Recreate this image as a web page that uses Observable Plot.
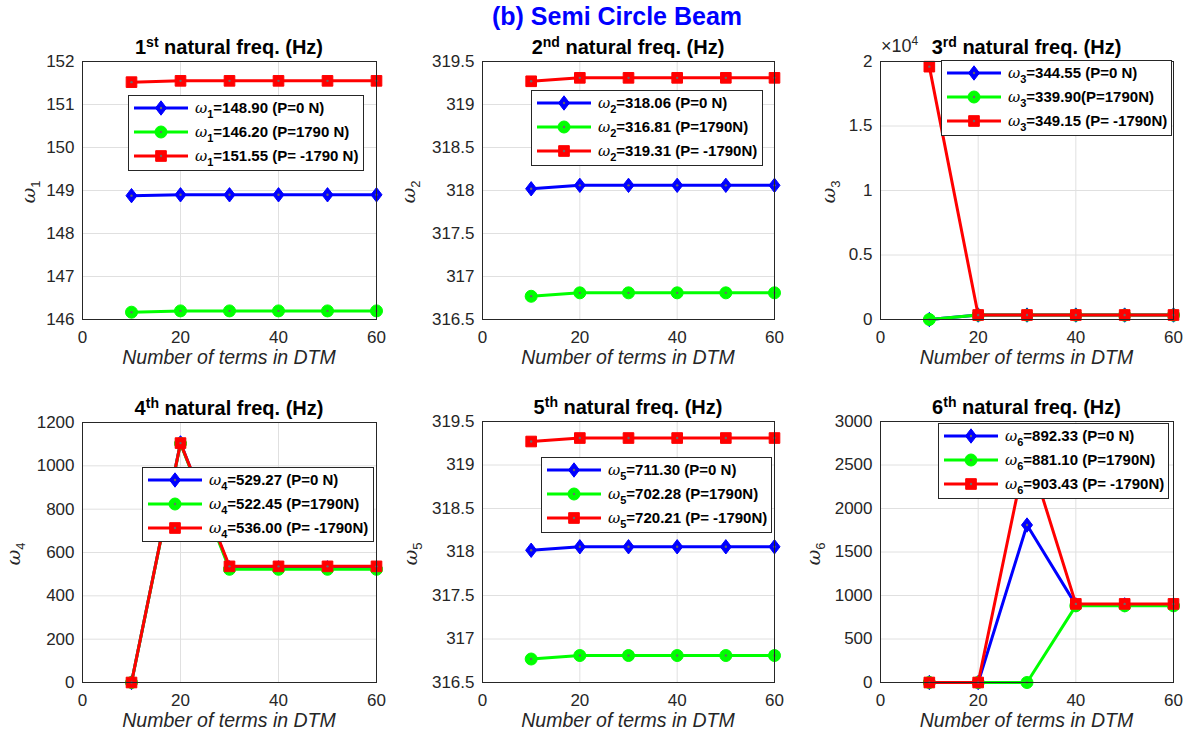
<!DOCTYPE html>
<html><head><meta charset="utf-8">
<script src="https://cdn.jsdelivr.net/npm/d3@7"></script>
<script src="https://cdn.jsdelivr.net/npm/@observablehq/plot@0.6"></script>
<style>
body{margin:0;background:#fff;}
#root{position:relative;width:1190px;height:735px;overflow:hidden;font-family:"Liberation Sans",Arial,Helvetica,sans-serif;}
.abs{position:absolute;white-space:nowrap;}
.maintitle{color:#0000ff;font-weight:bold;font-size:25px;transform:translate(-50%,-50%);}
.ptitle{color:#000;font-weight:bold;font-size:20px;transform:translate(-50%,-50%);}
.ptitle sup{font-size:14px;vertical-align:7px;line-height:0;}
.xlabel{color:#262626;font-style:italic;font-size:19.5px;transform:translate(-50%,-50%);}
.ylabel{color:#262626;font-size:19px;transform:translate(-50%,-50%) rotate(-90deg);}
.ylabel i, .leg i{font-family:"DejaVu Serif","Liberation Serif",serif;font-style:italic;font-weight:normal;}
.ylabel sub{font-size:13px;vertical-align:-5px;line-height:0;}
.expo{color:#262626;font-size:18px;}
.expo sup{font-size:12px;vertical-align:7px;line-height:0;}
.leg{background:#fff;border:1px solid #262626;box-sizing:border-box;}
.legrow{position:absolute;left:0;height:24px;display:flex;align-items:center;font-weight:bold;font-size:15px;color:#000;}
.legrow sub{font-size:11px;vertical-align:-5px;line-height:0;}
</style></head>
<body><div id="root"></div>
<script>
// ---------------- data ----------------
const nTerms = [10, 20, 30, 40, 50, 60];
const xTicks = [0, 20, 40, 60];

const w1_P0     = [148.88, 148.90, 148.90, 148.90, 148.90, 148.90];
const w1_P1790  = [146.17, 146.20, 146.20, 146.20, 146.20, 146.20];
const w1_Pm1790 = [151.52, 151.55, 151.55, 151.55, 151.55, 151.55];

const w2_P0     = [318.02, 318.06, 318.06, 318.06, 318.06, 318.06];
const w2_P1790  = [316.77, 316.81, 316.81, 316.81, 316.81, 316.81];
const w2_Pm1790 = [319.27, 319.31, 319.31, 319.31, 319.31, 319.31];

const w3_P0     = [0, 344.55, 344.55, 344.55, 344.55, 344.55];
const w3_P1790  = [0, 339.90, 339.90, 339.90, 339.90, 339.90];
const w3_Pm1790 = [19600, 349.15, 349.15, 349.15, 349.15, 349.15];

const w4_P0     = [0, 1106, 529.27, 529.27, 529.27, 529.27];
const w4_P1790  = [0, 1103, 522.45, 522.45, 522.45, 522.45];
const w4_Pm1790 = [0, 1105, 536.00, 536.00, 536.00, 536.00];

const w5_P0     = [318.02, 318.06, 318.06, 318.06, 318.06, 318.06];
const w5_P1790  = [316.77, 316.81, 316.81, 316.81, 316.81, 316.81];
const w5_Pm1790 = [319.27, 319.31, 319.31, 319.31, 319.31, 319.31];

const w6_P0     = [0, 0, 1810, 892.33, 892.33, 892.33];
const w6_P1790  = [0, 0, 0, 881.10, 881.10, 881.10];
const w6_Pm1790 = [0, 0, 2700, 903.43, 903.43, 903.43];

const yTicks1 = [146, 147, 148, 149, 150, 151, 152];
const yTicks2 = [316.5, 317, 317.5, 318, 318.5, 319, 319.5];
const yTicks3 = [0, 5000, 10000, 15000, 20000];
const yTicks4 = [0, 200, 400, 600, 800, 1000, 1200];
const yTicks5 = [316.5, 317, 317.5, 318, 318.5, 319, 319.5];
const yTicks6 = [0, 500, 1000, 1500, 2000, 2500, 3000];

const legend1 = ["=148.90 (P=0 N)", "=146.20 (P=1790 N)", "=151.55 (P= -1790 N)"];
const legend2 = ["=318.06 (P=0 N)", "=316.81 (P=1790N)", "=319.31 (P= -1790N)"];
const legend3 = ["=344.55 (P=0 N)", "=339.90(P=1790N)", "=349.15 (P= -1790N)"];
const legend4 = ["=529.27 (P=0 N)", "=522.45 (P=1790N)", "=536.00 (P= -1790N)"];
const legend5 = ["=711.30 (P=0 N)", "=702.28 (P=1790N)", "=720.21 (P= -1790N)"];
const legend6 = ["=892.33 (P=0 N)", "=881.10 (P=1790N)", "=903.43 (P= -1790N)"];

const seriesKeys = ["P=0 N", "P=1790 N", "P=-1790 N"];
const ordinals = ["st", "nd", "rd", "th", "th", "th"];
const mainTitle = "(b) Semi Circle Beam";
const xLabel = "Number of terms in DTM";

// ---------------- styles / layout ----------------
const seriesColors = ["#0000ff", "#00ff00", "#ff0000"];
const matlabDiamond = {
  draw(context, size) {
    const a = Math.sqrt(size) * 0.52, b = a * 1.3;
    context.moveTo(0, -b); context.lineTo(a, 0); context.lineTo(0, b); context.lineTo(-a, 0); context.closePath();
  }
};
const seriesSymbols = [matlabDiamond, d3.symbolCircle, d3.symbolSquare];
const frames = [[82,61,294,258],[482,61,292,258],[880,61,293,258],[82,422,294,260],[482,421,292,261],[880,421,293,261]];
const legendBoxes = [[128,95,236,76],[531,90,232,76],[941,60,231,76],[142,467,232,75],[541,457,231,76],[938,423,231,76]];
const yLabelOffsets = [54,74,52,69,72,67];

const modeSeries = [
  [w1_P0, w1_P1790, w1_Pm1790],
  [w2_P0, w2_P1790, w2_Pm1790],
  [w3_P0, w3_P1790, w3_Pm1790],
  [w4_P0, w4_P1790, w4_Pm1790],
  [w5_P0, w5_P1790, w5_Pm1790],
  [w6_P0, w6_P1790, w6_Pm1790]
];
const yTickSets = [yTicks1, yTicks2, yTicks3, yTicks4, yTicks5, yTicks6];
const legends = [legend1, legend2, legend3, legend4, legend5, legend6];

const root = document.getElementById("root");
function addDiv(cls, x, y, html) {
  const d = document.createElement("div");
  d.className = "abs " + cls;
  d.style.left = x + "px"; d.style.top = y + "px";
  d.innerHTML = html;
  root.appendChild(d);
  return d;
}

const mL = 75, mR = 20, mT = 12, mB = 30;
const R = 6;

modeSeries.forEach((series, i) => {
  const [fx, fy, fw, fh] = frames[i];
  const ticks = yTickSets[i];
  const rows = series.flatMap((vals, s) => vals.map((v, k) => ({n: nTerms[k], w: v, s: seriesKeys[s]})));
  const marks = [
    Plot.gridX(xTicks, {stroke: "#e0e0e0", strokeOpacity: 1}),
    Plot.gridY(ticks, {stroke: "#e0e0e0", strokeOpacity: 1}),
    Plot.axisX({ticks: xTicks, tickSize: 0, tickPadding: 11, label: null, fontSize: 17}),
    Plot.axisY({ticks, tickSize: 0, tickPadding: 8, label: null, fontSize: 17,
      tickFormat: i === 2 ? (d => String(d / 10000)) : (d => String(d))})
  ];
  seriesKeys.forEach((key, s) => {
    const sub = rows.filter(r => r.s === key);
    marks.push(Plot.line(sub, {x: "n", y: "w", stroke: seriesColors[s], strokeWidth: 3}));
    marks.push(Plot.dot(sub, {x: "n", y: "w", symbol: seriesSymbols[s], fill: seriesColors[s], stroke: seriesColors[s], strokeWidth: 1, r: R}));
    marks.push(Plot.dot(sub, {x: "n", y: "w", fill: "#6a6a6a", r: 1.2}));
  });
  marks.push(Plot.frame({stroke: "#262626", strokeWidth: 1}));

  const svg = Plot.plot({
    width: fw + mL + mR, height: fh + mT + mB,
    marginLeft: mL, marginRight: mR, marginTop: mT, marginBottom: mB,
    style: {background: "transparent", color: "#262626", fontFamily: "'Liberation Sans', Arial, Helvetica, sans-serif", fontSize: "17px", overflow: "visible"},
    x: {domain: [0, 60]},
    y: {domain: [ticks[0], ticks[ticks.length - 1]]},
    marks
  });
  svg.style.position = "absolute";
  svg.style.left = (fx - mL) + "px";
  svg.style.top = (fy - mT) + "px";
  svg.style.maxWidth = "none";
  root.appendChild(svg);

  addDiv("ptitle", fx + fw / 2, fy - 14, `${i + 1}<sup>${ordinals[i]}</sup> natural freq. (Hz)`);
  addDiv("xlabel", fx + fw / 2, fy + fh + 38, xLabel);
  addDiv("ylabel", fx - yLabelOffsets[i], fy + fh / 2 + 2, `<i>ω</i><sub>${i + 1}</sub>`);
  if (i === 2) addDiv("expo", fx + 1, fy - 25, "×10<sup>4</sup>");
});

// legends
legends.forEach((labels, i) => {
  const [lx, ly, lw, lh] = legendBoxes[i];
  const box = addDiv("leg", lx, ly, "");
  box.style.width = lw + "px"; box.style.height = lh + "px";
  labels.forEach((lab, s) => {
    const row = document.createElement("div");
    row.className = "legrow";
    row.style.top = (24 * s) + "px";
    const p = d3.symbol(seriesSymbols[s], Math.PI * R * R)();
    row.innerHTML = `<svg width="64" height="24" style="flex:none"><line x1="5" x2="59" y1="12" y2="12" stroke="${seriesColors[s]}" stroke-width="3"/>` +
      `<path d="${p}" transform="translate(32,12)" fill="${seriesColors[s]}" stroke="${seriesColors[s]}"/>` +
      `<circle cx="32" cy="12" r="1.2" fill="#6a6a6a"/></svg>` +
      `<span style="margin-left:2px"><i>ω</i><sub>${i + 1}</sub>${lab}</span>`;
    box.appendChild(row);
  });
});

addDiv("maintitle", 617, 16, mainTitle);
</script>
</body></html>
